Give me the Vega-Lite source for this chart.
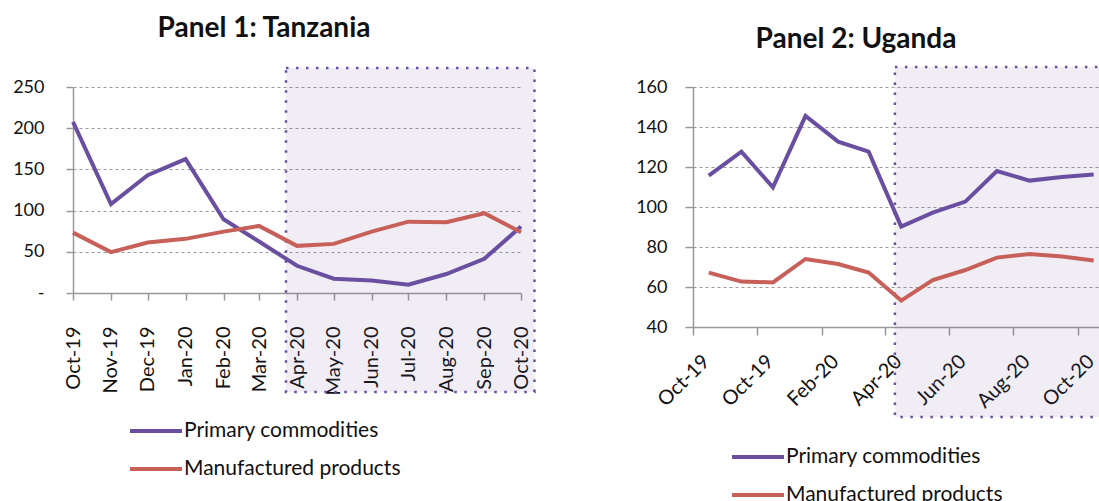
{
  "$schema": "https://vega.github.io/schema/vega-lite/v6.json",
  "background": "white",
  "padding": {"left": 12, "top": 14, "right": 0, "bottom": 0},
  "config": {
    "font": "Lato",
    "view": {"stroke": null},
    "axis": {"labelColor": "#111", "labelFont": "Lato", "domainColor": "#999", "tickColor": "#999", "domainWidth": 1.5, "tickWidth": 1.5, "gridColor": "#999", "gridDash": [3, 3], "gridWidth": 1, "labelOverlap": false},
    "legend": {"labelFont": "Lato", "labelColor": "#111"},
    "title": {"font": "Lato", "color": "#111"}
  },
  "datasets": {
    "tanzania": [
      {"month": "2019/10/01", "series": "Primary commodities", "value": 207.6},
      {"month": "2019/11/01", "series": "Primary commodities", "value": 108},
      {"month": "2019/12/01", "series": "Primary commodities", "value": 143},
      {"month": "2020/01/01", "series": "Primary commodities", "value": 162.5},
      {"month": "2020/02/01", "series": "Primary commodities", "value": 89.5},
      {"month": "2020/03/01", "series": "Primary commodities", "value": 62.5},
      {"month": "2020/04/01", "series": "Primary commodities", "value": 33},
      {"month": "2020/05/01", "series": "Primary commodities", "value": 17.3},
      {"month": "2020/06/01", "series": "Primary commodities", "value": 15.3},
      {"month": "2020/07/01", "series": "Primary commodities", "value": 10},
      {"month": "2020/08/01", "series": "Primary commodities", "value": 23},
      {"month": "2020/09/01", "series": "Primary commodities", "value": 41.5},
      {"month": "2020/10/01", "series": "Primary commodities", "value": 80.6},
      {"month": "2019/10/01", "series": "Manufactured products", "value": 73.3},
      {"month": "2019/11/01", "series": "Manufactured products", "value": 49.6},
      {"month": "2019/12/01", "series": "Manufactured products", "value": 61.2},
      {"month": "2020/01/01", "series": "Manufactured products", "value": 65.7},
      {"month": "2020/02/01", "series": "Manufactured products", "value": 74.5},
      {"month": "2020/03/01", "series": "Manufactured products", "value": 81.4},
      {"month": "2020/04/01", "series": "Manufactured products", "value": 57.2},
      {"month": "2020/05/01", "series": "Manufactured products", "value": 59.6},
      {"month": "2020/06/01", "series": "Manufactured products", "value": 74.5},
      {"month": "2020/07/01", "series": "Manufactured products", "value": 86.6},
      {"month": "2020/08/01", "series": "Manufactured products", "value": 85.9},
      {"month": "2020/09/01", "series": "Manufactured products", "value": 96.8},
      {"month": "2020/10/01", "series": "Manufactured products", "value": 73.8}
    ],
    "uganda": [
      {"month": "2019/10/01", "series": "Primary commodities", "value": 115.7},
      {"month": "2019/11/01", "series": "Primary commodities", "value": 127.7},
      {"month": "2019/12/01", "series": "Primary commodities", "value": 109.8},
      {"month": "2020/01/01", "series": "Primary commodities", "value": 145.5},
      {"month": "2020/02/01", "series": "Primary commodities", "value": 132.7},
      {"month": "2020/03/01", "series": "Primary commodities", "value": 127.7},
      {"month": "2020/04/01", "series": "Primary commodities", "value": 90.2},
      {"month": "2020/05/01", "series": "Primary commodities", "value": 97.2},
      {"month": "2020/06/01", "series": "Primary commodities", "value": 102.7},
      {"month": "2020/07/01", "series": "Primary commodities", "value": 118},
      {"month": "2020/08/01", "series": "Primary commodities", "value": 113.2},
      {"month": "2020/09/01", "series": "Primary commodities", "value": 115},
      {"month": "2020/10/01", "series": "Primary commodities", "value": 116.3},
      {"month": "2019/10/01", "series": "Manufactured products", "value": 67.2},
      {"month": "2019/11/01", "series": "Manufactured products", "value": 62.7},
      {"month": "2019/12/01", "series": "Manufactured products", "value": 62.3},
      {"month": "2020/01/01", "series": "Manufactured products", "value": 74},
      {"month": "2020/02/01", "series": "Manufactured products", "value": 71.5},
      {"month": "2020/03/01", "series": "Manufactured products", "value": 67.2},
      {"month": "2020/04/01", "series": "Manufactured products", "value": 53.2},
      {"month": "2020/05/01", "series": "Manufactured products", "value": 63.5},
      {"month": "2020/06/01", "series": "Manufactured products", "value": 68.5},
      {"month": "2020/07/01", "series": "Manufactured products", "value": 74.7},
      {"month": "2020/08/01", "series": "Manufactured products", "value": 76.5},
      {"month": "2020/09/01", "series": "Manufactured products", "value": 75.2},
      {"month": "2020/10/01", "series": "Manufactured products", "value": 73.3}
    ],
    "shadeTZ": [{"start": "2020/03/23", "end": "2020/10/12", "low": -120, "high": 273}],
    "shadeUG": [{"start": "2020/03/26", "end": "2020/10/25", "low": -5, "high": 170}]
  },
  "spacing": 99,
  "resolve": {"scale": {"color": "independent", "x": "independent", "y": "independent"}, "legend": {"color": "independent"}},
  "hconcat": [
    {
      "title": {"text": "Panel 1: Tanzania", "fontSize": 28, "fontWeight": "bold", "anchor": "middle", "offset": 24, "dx": -33},
      "width": 448,
      "height": 206,
      "layer": [
        {
          "data": {"name": "shadeTZ"},
          "mark": {"type": "rect", "fill": "#6a4fa0", "fillOpacity": 0.1, "stroke": "#6a4fa0", "strokeOpacity": 1, "strokeWidth": 2.5, "strokeDash": [2.5, 7.5]},
          "encoding": {
            "x": {
              "field": "start", "type": "temporal", "title": null,
              "scale": {"domain": [{"year": 2019, "month": 10, "date": 1}, {"year": 2020, "month": 10, "date": 1}], "nice": false},
              "axis": {"format": "%b-%y", "tickCount": {"interval": "month", "step": 1}, "labelAngle": -90, "labelFontSize": 20, "tickSize": 7, "labelPadding": 26, "grid": false}
            },
            "x2": {"field": "end"},
            "y": {
              "field": "low", "type": "quantitative", "title": null,
              "scale": {"domain": [0, 250], "nice": false},
              "axis": {"values": [0, 50, 100, 150, 200, 250], "labelExpr": "datum.value == 0 ? '-' : datum.label", "labelFontSize": 18, "tickSize": 7, "labelPadding": 22, "grid": true}
            },
            "y2": {"field": "high"}
          }
        },
        {
          "data": {"name": "tanzania"},
          "mark": {"type": "line", "strokeWidth": 4},
          "encoding": {
            "x": {
              "field": "month", "type": "temporal", "title": null,
              "scale": {"domain": [{"year": 2019, "month": 10, "date": 1}, {"year": 2020, "month": 10, "date": 1}], "nice": false},
              "axis": {"format": "%b-%y", "tickCount": {"interval": "month", "step": 1}, "labelAngle": -90, "labelFontSize": 20, "tickSize": 7, "labelPadding": 26, "grid": false}
            },
            "y": {
              "field": "value", "type": "quantitative", "title": null,
              "scale": {"domain": [0, 250], "nice": false},
              "axis": {"values": [0, 50, 100, 150, 200, 250], "labelExpr": "datum.value == 0 ? '-' : datum.label", "labelFontSize": 18, "tickSize": 7, "labelPadding": 22, "grid": true}
            },
            "color": {
              "field": "series", "type": "nominal", "sort": ["Primary commodities", "Manufactured products"],
              "scale": {"domain": ["Primary commodities", "Manufactured products"], "range": ["#6a4fa0", "#c8605a"]},
              "legend": {"title": null, "orient": "none", "legendX": 55, "legendY": 316, "symbolType": "stroke", "symbolSize": 2704, "symbolStrokeWidth": 4, "labelFontSize": 21, "labelOffset": 0, "rowPadding": -1, "labelLimit": 0}
            }
          }
        }
      ]
    },
    {
      "title": {"text": "Panel 2: Uganda", "fontSize": 28, "fontWeight": "bold", "anchor": "middle", "offset": 12, "dx": -41},
      "width": 408,
      "height": 240,
      "layer": [
        {
          "data": {"name": "shadeUG"},
          "mark": {"type": "rect", "fill": "#6a4fa0", "fillOpacity": 0.1, "stroke": "#6a4fa0", "strokeOpacity": 1, "strokeWidth": 2.5, "strokeDash": [2.5, 7.5]},
          "encoding": {
            "x": {
              "field": "start", "type": "temporal", "title": null,
              "scale": {"domain": [{"year": 2019, "month": 9, "date": 16}, {"year": 2020, "month": 10, "date": 8}], "nice": false},
              "axis": {
                "format": "%b-%y",
                "values": [{"year": 2019, "month": 10, "date": 1}, {"year": 2019, "month": 12, "date": 1}, {"year": 2020, "month": 2, "date": 1}, {"year": 2020, "month": 4, "date": 1}, {"year": 2020, "month": 6, "date": 1}, {"year": 2020, "month": 8, "date": 1}, {"year": 2020, "month": 10, "date": 1}],
                "labelExpr": "datum.label == 'Dec-19' ? 'Oct-19' : datum.label",
                "labelAngle": -45, "labelFontSize": 20, "tickSize": 8, "labelPadding": 16, "tickOffset": -16, "labelOffset": 6, "grid": false
              }
            },
            "x2": {"field": "end"},
            "y": {
              "field": "low", "type": "quantitative", "title": null,
              "scale": {"domain": [40, 160], "nice": false},
              "axis": {"values": [40, 60, 80, 100, 120, 140, 160], "labelFontSize": 18, "tickSize": 8, "labelPadding": 18, "grid": true}
            },
            "y2": {"field": "high"}
          }
        },
        {
          "data": {"name": "uganda"},
          "mark": {"type": "line", "strokeWidth": 4},
          "encoding": {
            "x": {
              "field": "month", "type": "temporal", "title": null,
              "scale": {"domain": [{"year": 2019, "month": 9, "date": 16}, {"year": 2020, "month": 10, "date": 8}], "nice": false},
              "axis": {
                "format": "%b-%y",
                "values": [{"year": 2019, "month": 10, "date": 1}, {"year": 2019, "month": 12, "date": 1}, {"year": 2020, "month": 2, "date": 1}, {"year": 2020, "month": 4, "date": 1}, {"year": 2020, "month": 6, "date": 1}, {"year": 2020, "month": 8, "date": 1}, {"year": 2020, "month": 10, "date": 1}],
                "labelExpr": "datum.label == 'Dec-19' ? 'Oct-19' : datum.label",
                "labelAngle": -45, "labelFontSize": 20, "tickSize": 8, "labelPadding": 16, "tickOffset": -16, "labelOffset": 6, "grid": false
              }
            },
            "y": {
              "field": "value", "type": "quantitative", "title": null,
              "scale": {"domain": [40, 160], "nice": false},
              "axis": {"values": [40, 60, 80, 100, 120, 140, 160], "labelFontSize": 18, "tickSize": 8, "labelPadding": 18, "grid": true}
            },
            "color": {
              "field": "series", "type": "nominal", "sort": ["Primary commodities", "Manufactured products"],
              "scale": {"domain": ["Primary commodities", "Manufactured products"], "range": ["#6a4fa0", "#c8605a"]},
              "legend": {"title": null, "orient": "none", "legendX": 37, "legendY": 342, "symbolType": "stroke", "symbolSize": 2704, "symbolStrokeWidth": 4, "labelFontSize": 21, "labelOffset": 0, "rowPadding": -3, "labelLimit": 0}
            }
          }
        }
      ]
    }
  ]
}
